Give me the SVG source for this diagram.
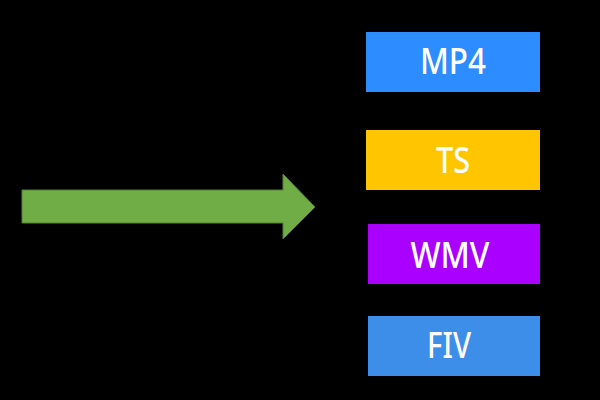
<svg xmlns="http://www.w3.org/2000/svg" width="600" height="400" viewBox="0 0 600 400">
<style>
.lbl{font-family:"Noto Sans","DejaVu Sans",sans-serif;font-size:37px;font-weight:500;fill:#ffffff;text-anchor:middle}
</style>
<rect x="0" y="0" width="600" height="400" fill="#000000"/>
<g id="connectors">
<polygon points="22,190 283,190 283,174 315,207 283,239 283,223 22,223" fill="#70ad47" stroke="#507e32" stroke-width="1"/>
</g>
<g id="mp4"><rect x="366" y="32" width="174" height="60" fill="#2d8cff"/><text class="lbl" x="453" y="74" textLength="66" lengthAdjust="spacingAndGlyphs">MP4</text></g>
<g id="ts"><rect x="366" y="130" width="174" height="60" fill="#ffc600"/><text class="lbl" x="453" y="173" textLength="34" lengthAdjust="spacingAndGlyphs">TS</text></g>
<g id="wmv"><rect x="368" y="224" width="172" height="60" fill="#aa00ff"/><text class="lbl" x="450" y="268" textLength="79" lengthAdjust="spacingAndGlyphs">WMV</text></g>
<g id="fiv"><rect x="368" y="316" width="172" height="60" fill="#3d8ee8"/><text class="lbl" x="449" y="358" textLength="44" lengthAdjust="spacingAndGlyphs">FIV</text></g>
</svg>
